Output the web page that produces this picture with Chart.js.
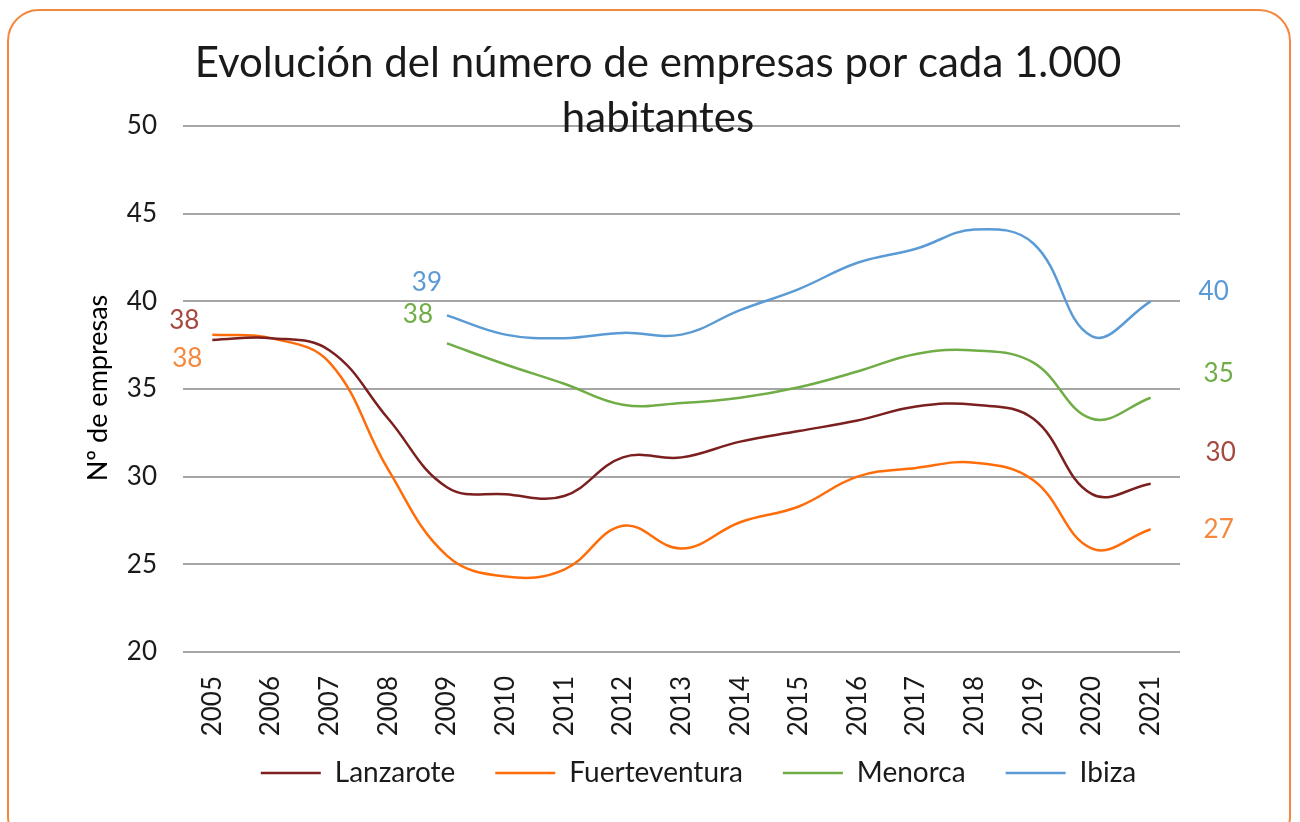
<!DOCTYPE html>
<html>
<head>
<meta charset="utf-8">
<script src="https://cdn.jsdelivr.net/npm/chart.js@4.4.1/dist/chart.umd.min.js"></script>
<style>
  html, body { margin: 0; padding: 0; background: #fff; overflow: hidden; }
  #frame {
    position: absolute; left: 7px; top: 9px; width: 1284px; height: 840px;
    border: 2px solid #F4883F; border-radius: 32px; box-sizing: border-box;
  }
  #wrap { position: absolute; left: 0; top: 0; width: 1300px; height: 822px; }
</style>
</head>
<body>
<div id="frame"></div>
<div id="wrap"><canvas id="chart" width="1300" height="822"></canvas></div>
<script>
// Datos
const years = ['2005', '2006', '2007', '2008', '2009', '2010', '2011', '2012', '2013',
               '2014', '2015', '2016', '2017', '2018', '2019', '2020', '2021'];
const lanzarote     = [37.8, 37.9, 37.2, 33.3, 29.4, 29.0, 28.9, 31.1, 31.1, 32.0, 32.6, 33.2, 34.0, 34.1, 33.3, 29.0, 29.6];
const fuerteventura = [38.1, 37.9, 36.5, 30.4, 25.5, 24.3, 24.7, 27.2, 25.9, 27.4, 28.3, 30.0, 30.5, 30.8, 29.8, 25.9, 27.0];
const menorca       = [null, null, null, null, 37.6, 36.4, 35.3, 34.1, 34.2, 34.5, 35.1, 36.0, 37.0, 37.2, 36.5, 33.3, 34.5];
const ibiza         = [null, null, null, null, 39.2, 38.1, 37.9, 38.2, 38.1, 39.5, 40.7, 42.2, 43.0, 44.1, 43.3, 38.0, 40.0];
const yTicks = [20, 25, 30, 35, 40, 45, 50];

const FONT = 'Lato, "Open Sans", sans-serif';

// Etiquetas del primer y último valor de cada serie
const labelStyle = [
  { color: '#A5483E', first: '38', last: '30', fdx: -28, fdy: -19, ldx: 70, ldy: -31 },
  { color: '#F4883F', first: '38', last: '27', fdx: -25, fdy: 24, ldx: 68, ldy: 0 },
  { color: '#70AD47', first: '38', last: '35', fdx: -29, fdy: -29, ldx: 68, ldy: -24 },
  { color: '#5B9BD5', first: '39', last: '40', fdx: -20, fdy: -33, ldx: 63, ldy: -10 }
];

const extras = {
  id: 'extras',
  afterLayout(chart) {
    // subir la leyenda y centrarla como en el original
    const lg = chart.legend;
    lg.top -= 25; lg.bottom -= 25;
    lg.left += 17; lg.right += 17;
  },
  afterDatasetsDraw(chart) {
    const ctx = chart.ctx;
    ctx.save();
    ctx.textAlign = 'center';
    ctx.textBaseline = 'middle';
    ctx.font = '26px ' + FONT;
    chart.data.datasets.forEach((ds, i) => {
      const meta = chart.getDatasetMeta(i);
      const st = labelStyle[i];
      let firstIdx = ds.data.findIndex(v => v !== null);
      let lastIdx = ds.data.length - 1;
      const p1 = meta.data[firstIdx], p2 = meta.data[lastIdx];
      ctx.fillStyle = st.color;
      ctx.fillText(st.first, p1.x + st.fdx, p1.y + st.fdy);
      ctx.fillText(st.last, p2.x + st.ldx, p2.y + st.ldy);
    });
    // título
    ctx.fillStyle = '#1a1a1a';
    ctx.font = '42px ' + FONT;
    ctx.fillText('Evolución del número de empresas por cada 1.000', 658, 63);
    ctx.fillText('habitantes', 658, 118);
    // título del eje Y
    ctx.translate(98, 388);
    ctx.rotate(-Math.PI / 2);
    ctx.font = '27px ' + FONT;
    ctx.fillStyle = '#000';
    ctx.fillText('Nº de empresas', 0, 0);
    ctx.restore();
  }
};

new Chart(document.getElementById('chart'), {
  type: 'line',
  data: {
    labels: years,
    datasets: [
      { label: 'Lanzarote', data: lanzarote, borderColor: '#7B1F1F', backgroundColor: '#7B1F1F', borderWidth: 2.5 },
      { label: 'Fuerteventura', data: fuerteventura, borderColor: '#FF6D0A', backgroundColor: '#FF6D0A', borderWidth: 2.5 },
      { label: 'Menorca', data: menorca, borderColor: '#70AD47', backgroundColor: '#70AD47', borderWidth: 2.5 },
      { label: 'Ibiza', data: ibiza, borderColor: '#5B9BD5', backgroundColor: '#5B9BD5', borderWidth: 2.5 }
    ]
  },
  options: {
    responsive: false,
    animation: false,
    layout: { padding: { top: 126, right: 120, bottom: 0, left: 0 } },
    elements: {
      line: { tension: 0.4 },
      point: { radius: 0 }
    },
    plugins: {
      title: { display: false },
      tooltip: { enabled: false },
      legend: {
        position: 'bottom',
        fullSize: false,
        maxHeight: 80,
        labels: {
          usePointStyle: true,
          pointStyle: 'line',
          pointStyleWidth: 60,
          padding: 40,
          color: '#1a1a1a',
          font: { family: FONT, size: 28 }
        }
      }
    },
    scales: {
      x: {
        offset: true,
        grid: { display: false },
        border: { display: false },
        afterFit(scale) { scale.height = 92; },
        ticks: {
          minRotation: 90,
          maxRotation: 90,
          padding: 16,
          color: '#1a1a1a',
          font: { family: FONT, size: 26 }
        }
      },
      y: {
        min: 20,
        max: 50,
        afterFit(scale) { scale.width = 183; },
        afterBuildTicks(scale) { scale.ticks = yTicks.map(v => ({ value: v })); },
        grid: { color: '#A6A6A6', lineWidth: 2, drawTicks: false },
        border: { display: false },
        ticks: {
          padding: 26,
          color: '#1a1a1a',
          font: { family: FONT, size: 26 }
        }
      }
    }
  },
  plugins: [extras]
});
</script>
</body>
</html>
